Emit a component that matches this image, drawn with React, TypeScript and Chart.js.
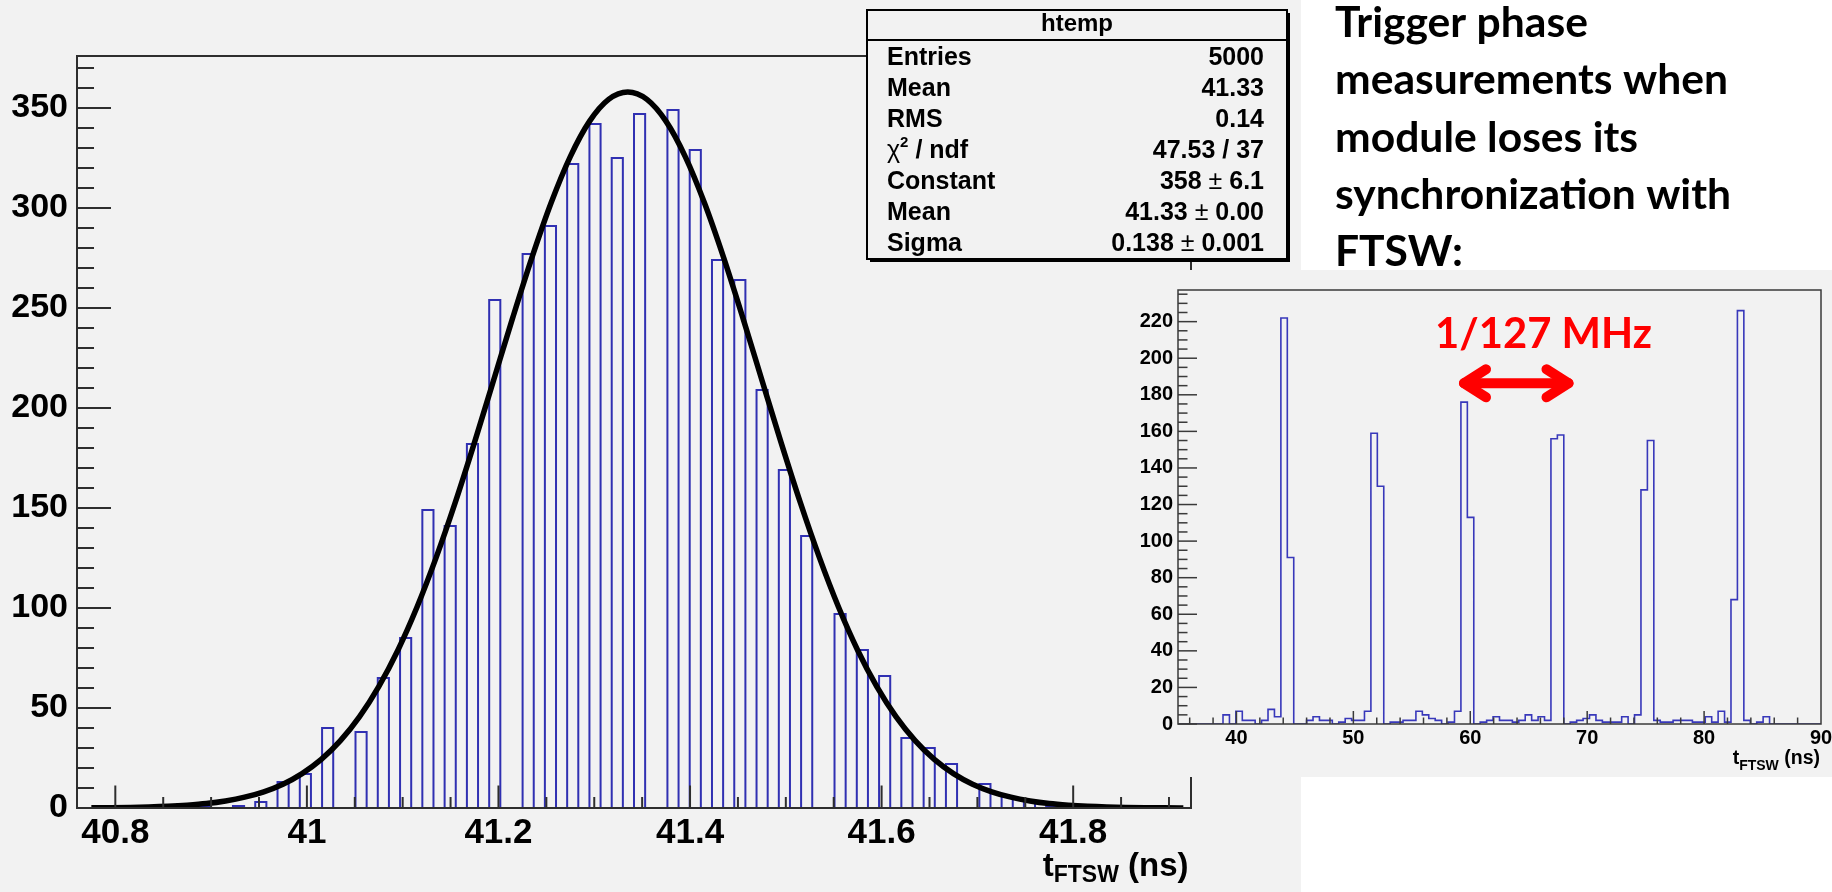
import React, { useEffect, useRef } from 'react';
import { Chart, registerables } from 'chart.js';

Chart.register(...registerables);

// ---------------- main histogram (htemp) ----------------
const MAIN_X_MIN = 40.76;
const MAIN_X_MAX = 41.923;
const MAIN_BIN_WIDTH = 0.01163;
const MAIN_Y_MAX = 376;
const MAIN_COUNTS = [
  0, 0, 0, 0, 0, 0, 0, 0, 0, 2,
  0, 1, 0, 0, 1, 0, 3, 0, 13, 0,
  17, 0, 40, 0, 0, 38, 0, 65, 0, 85,
  0, 149, 0, 141, 0, 182, 0, 254, 0, 0,
  277, 0, 291, 0, 322, 0, 342, 0, 325, 0,
  347, 0, 0, 349, 0, 329, 0, 274, 0, 264,
  0, 209, 0, 169, 0, 136, 0, 0, 97, 0,
  79, 0, 66, 0, 35, 0, 30, 0, 22, 0,
  0, 12, 0, 6, 0, 3, 0, 1, 0, 1,
  0, 0, 0, 0, 0, 0, 0, 0, 0, 0,
];
const MAIN_X_TICKS = [40.8, 41, 41.2, 41.4, 41.6, 41.8];
const MAIN_X_LABELS = ['40.8', '41', '41.2', '41.4', '41.6', '41.8'];
const MAIN_Y_TICKS = [0, 50, 100, 150, 200, 250, 300, 350];

// gaussian fit curve, sampled every 0.02 ns from 40.775
const FIT_X_START = 40.775;
const FIT_X_STEP = 0.02;
const FIT_Y = [
  0.1, 0.17, 0.3, 0.5, 0.85, 1.4, 2.2, 3.5, 5.4, 8.1,
  11.9, 17.2, 24.3, 33.7, 45.7, 60.7, 78.9, 100.5, 125.3, 152.9,
  182.8, 214.0, 245.3, 275.3, 302.6, 325.7, 343.3, 354.3, 358, 354.3,
  343.3, 325.7, 302.6, 275.3, 245.3, 214.0, 182.8, 152.9, 125.3, 100.5,
  78.9, 60.7, 45.7, 33.7, 24.3, 17.2, 11.9, 8.1, 5.4, 3.5,
  2.2, 1.4, 0.85, 0.5, 0.3, 0.17, 0.1, 0.05,
];

const STATS_TITLE = 'htemp';
const STATS_LABELS = ['Entries', 'Mean', 'RMS', 'χ2 / ndf', 'Constant', 'Mean', 'Sigma'];
const STATS_VALUES = ['5000', '41.33', '0.14', '47.53 / 37', '358 ± 6.1', '41.33 ± 0.00', '0.138 ± 0.001'];

// ---------------- inset histogram ----------------
const INSET_X_MIN = 35;
const INSET_X_MAX = 90;
const INSET_BIN_WIDTH = 0.55;
const INSET_Y_MAX = 237.3;
const INSET_COUNTS = [
  0, 0, 0, 0, 0, 0, 0, 5, 0, 7,
  2, 2, 0, 2, 8, 4, 222, 91, 0, 0,
  2, 4, 2, 2, 0, 1, 3, 2, 2, 7,
  159, 130, 0, 1, 1, 2, 2, 7, 5, 3,
  2, 0, 1, 7, 176, 113, 0, 1, 2, 4,
  2, 2, 1, 2, 5, 2, 4, 2, 156, 158,
  0, 1, 2, 3, 5, 2, 1, 1, 1, 4,
  0, 5, 128, 155, 2, 1, 1, 2, 2, 2,
  1, 1, 4, 1, 7, 1, 68, 226, 2, 0,
  1, 4, 0, 0, 0, 0, 0, 0, 0, 0,
];
const INSET_X_TICKS = [40, 50, 60, 70, 80, 90];
const INSET_Y_TICKS = [0, 20, 40, 60, 80, 100, 120, 140, 160, 180, 200, 220];
const INSET_NOTE = '1/127 MHz';

const TEXT_LINES = ['Trigger phase', 'measurements when', 'module loses its', 'synchronization with', 'FTSW:'];

// ---------------- styling ----------------
const PAGE_W = 1832;
const PAGE_H = 892;
const BG = '#f2f2f2';
const HIST_BLUE = 'rgb(48,48,178)';
const AXIS = '#2e2e2e';
const ROOT_FONT = '"Liberation Sans", Arial, Helvetica, sans-serif';
const SLIDE_FONT = 'Lato, "Open Sans", sans-serif';

type Seg = { text: string; font: string; dy?: number };

function segWidth(ctx: CanvasRenderingContext2D, segs: Seg[]) {
  let w = 0;
  for (const s of segs) {
    ctx.font = s.font;
    w += ctx.measureText(s.text).width;
  }
  return w;
}
function drawSegs(ctx: CanvasRenderingContext2D, x0: number, baseline: number, segs: Seg[]) {
  let x = x0;
  for (const s of segs) {
    ctx.font = s.font;
    ctx.fillText(s.text, x, baseline + (s.dy || 0));
    x += ctx.measureText(s.text).width;
  }
}
function drawSegsRight(ctx: CanvasRenderingContext2D, right: number, baseline: number, segs: Seg[]) {
  drawSegs(ctx, right - segWidth(ctx, segs), baseline, segs);
}
function line(ctx: CanvasRenderingContext2D, x1: number, y1: number, x2: number, y2: number) {
  ctx.beginPath();
  ctx.moveTo(x1, y1);
  ctx.lineTo(x2, y2);
  ctx.stroke();
}

function stepPoints(xmin: number, w: number, counts: number[]) {
  const pts = counts.map((c, i) => ({ x: xmin + i * w, y: c }));
  pts.push({ x: xmin + counts.length * w, y: 0 });
  return pts;
}

const mainDecor = {
  id: 'mainDecor',
  beforeDraw(chart: any) {
    const ctx = chart.ctx as CanvasRenderingContext2D;
    ctx.save();
    ctx.fillStyle = BG;
    ctx.fillRect(0, 0, PAGE_W, PAGE_H);
    ctx.fillStyle = '#ffffff';
    ctx.fillRect(1301, 0, PAGE_W - 1301, 270);
    ctx.fillRect(1301, 777, PAGE_W - 1301, PAGE_H - 777);
    ctx.restore();
  },
  afterDatasetsDraw(chart: any) {
    const ctx = chart.ctx as CanvasRenderingContext2D;
    const a = chart.chartArea;
    const xs = chart.scales.x;
    const ys = chart.scales.y;
    ctx.save();
    ctx.strokeStyle = AXIS;
    ctx.lineWidth = 2;
    ctx.strokeRect(a.left, a.top, a.right - a.left, a.bottom - a.top);
    for (let k = 0; k * 10 <= MAIN_Y_MAX; k++) {
      const y = ys.getPixelForValue(k * 10);
      line(ctx, a.left, y, a.left + (k % 5 === 0 ? 34 : 17), y);
    }
    for (let k = 0; k <= 22; k++) {
      const x = xs.getPixelForValue(40.8 + k * 0.05);
      line(ctx, x, a.bottom, x, a.bottom - (k % 4 === 0 ? 22.5 : 11));
    }
    ctx.restore();
  },
  afterDraw(chart: any) {
    const ctx = chart.ctx as CanvasRenderingContext2D;
    const a = chart.chartArea;
    ctx.save();
    ctx.fillStyle = '#000';
    ctx.textBaseline = 'alphabetic';
    // x-axis title
    drawSegsRight(ctx, a.right - 2.5, 876, [
      { text: 't', font: `bold 33px ${ROOT_FONT}` },
      { text: 'FTSW', font: `bold 23px ${ROOT_FONT}`, dy: 6 },
      { text: ' (ns)', font: `bold 33px ${ROOT_FONT}` },
    ]);

    // stats box
    const bx = 867, by = 10, bw = 420, bh = 249;
    ctx.fillStyle = '#000';
    ctx.fillRect(bx + 3, by + 3, bw, bh);
    ctx.fillStyle = BG;
    ctx.fillRect(bx, by, bw, bh);
    ctx.strokeStyle = '#000';
    ctx.lineWidth = 2;
    ctx.strokeRect(bx, by, bw, bh);
    line(ctx, bx, 40, bx + bw, 40);
    ctx.fillStyle = '#000';
    ctx.font = `bold 24px ${ROOT_FONT}`;
    ctx.textAlign = 'center';
    ctx.fillText(STATS_TITLE, bx + bw / 2, 31);
    ctx.textAlign = 'left';
    const B = `bold 25px ${ROOT_FONT}`;
    const N = `25px ${ROOT_FONT}`;
    STATS_LABELS.forEach((lab, i) => {
      const base = 65 + i * 31;
      if (lab.startsWith('χ2')) {
        drawSegs(ctx, 887, base, [
          { text: 'χ', font: N },
          { text: '2', font: `bold 15px ${ROOT_FONT}`, dy: -11 },
          { text: lab.slice(2), font: B },
        ]);
      } else {
        drawSegs(ctx, 887, base, [{ text: lab, font: B }]);
      }
      const val = STATS_VALUES[i];
      const parts = val.split(' ± ');
      const segs: Seg[] = parts.length === 2
        ? [{ text: parts[0], font: B }, { text: ' ± ', font: N }, { text: parts[1], font: B }]
        : [{ text: val, font: B }];
      drawSegsRight(ctx, 1264, base, segs);
    });

    // slide text
    ctx.font = `bold 100px ${SLIDE_FONT}`;
    const size = (100 * 393) / ctx.measureText(TEXT_LINES[1]).width;
    ctx.font = `bold ${size.toFixed(2)}px ${SLIDE_FONT}`;
    TEXT_LINES.forEach((t, i) => ctx.fillText(t, 1335, 37 + i * 57.3));
    ctx.restore();
  },
};

const insetDecor = {
  id: 'insetDecor',
  beforeDraw(chart: any) {
    const ctx = chart.ctx as CanvasRenderingContext2D;
    ctx.save();
    ctx.fillStyle = BG;
    ctx.fillRect(0, 0, chart.width, chart.height);
    ctx.restore();
  },
  afterDatasetsDraw(chart: any) {
    const ctx = chart.ctx as CanvasRenderingContext2D;
    const a = chart.chartArea;
    const xs = chart.scales.x;
    const ys = chart.scales.y;
    ctx.save();
    ctx.strokeStyle = '#3a3a3a';
    ctx.lineWidth = 1.5;
    ctx.strokeRect(a.left, a.top, a.right - a.left, a.bottom - a.top);
    for (let k = 0; k * 5 <= INSET_Y_MAX; k++) {
      const y = ys.getPixelForValue(k * 5);
      line(ctx, a.left, y, a.left + (k % 4 === 0 ? 19 : 9.5), y);
    }
    for (let v = 36; v < INSET_X_MAX; v += 2) {
      const x = xs.getPixelForValue(v);
      line(ctx, x, a.bottom, x, a.bottom - (v % 10 === 0 ? 13 : 6.5));
    }
    ctx.restore();
  },
  afterDraw(chart: any) {
    const ctx = chart.ctx as CanvasRenderingContext2D;
    const a = chart.chartArea;
    ctx.save();
    ctx.fillStyle = '#000';
    drawSegsRight(ctx, a.right - 1, 494, [
      { text: 't', font: `bold 19.5px ${ROOT_FONT}` },
      { text: 'FTSW', font: `bold 14px ${ROOT_FONT}`, dy: 6 },
      { text: ' (ns)', font: `bold 19.5px ${ROOT_FONT}` },
    ]);
    // red annotation
    ctx.fillStyle = '#ff0000';
    ctx.font = `bold 100px ${SLIDE_FONT}`;
    const size = (100 * 217) / ctx.measureText(INSET_NOTE).width;
    ctx.font = `bold ${size.toFixed(2)}px ${SLIDE_FONT}`;
    ctx.fillText(INSET_NOTE, 317, 78.3);
    ctx.strokeStyle = '#ff0000';
    ctx.lineWidth = 10;
    ctx.lineCap = 'round';
    ctx.lineJoin = 'round';
    const y = 113.3, x1 = 346, x2 = 450.5, hx = 22, hy = 14;
    line(ctx, x1, y, x2, y);
    ctx.beginPath();
    ctx.moveTo(x1 + hx, y - hy);
    ctx.lineTo(x1, y);
    ctx.lineTo(x1 + hx, y + hy);
    ctx.stroke();
    ctx.beginPath();
    ctx.moveTo(x2 - hx, y - hy);
    ctx.lineTo(x2, y);
    ctx.lineTo(x2 - hx, y + hy);
    ctx.stroke();
    ctx.restore();
  },
};

export default function App() {
  const mainRef = useRef<HTMLCanvasElement>(null);
  const insetRef = useRef<HTMLCanvasElement>(null);

  useEffect(() => {
    if (!mainRef.current || !insetRef.current) return;
    const tickFont = (size: number) => ({ family: ROOT_FONT, size, weight: 'bold' as const });

    const main = new Chart(mainRef.current, {
      type: 'line',
      data: {
        datasets: [
          {
            label: 'htemp',
            data: stepPoints(MAIN_X_MIN, MAIN_BIN_WIDTH, MAIN_COUNTS),
            stepped: 'before',
            borderColor: HIST_BLUE,
            borderWidth: 2,
            pointRadius: 0,
            fill: false,
            order: 2,
          },
          {
            label: 'gaus',
            data: FIT_Y.map((y, i) => ({ x: FIT_X_START + i * FIT_X_STEP, y })),
            borderColor: '#000',
            borderWidth: 5.5,
            pointRadius: 0,
            fill: false,
            cubicInterpolationMode: 'monotone',
            order: 1,
          },
        ],
      },
      options: {
        animation: false,
        responsive: false,
        devicePixelRatio: 1,
        events: [],
        layout: { padding: { left: 0, top: 56, right: PAGE_W - 1191, bottom: 0 }, autoPadding: false },
        plugins: { legend: { display: false }, tooltip: { enabled: false } },
        scales: {
          x: {
            type: 'linear',
            min: MAIN_X_MIN,
            max: MAIN_X_MAX,
            grid: { display: false, drawTicks: false },
            border: { display: false },
            ticks: {
              font: tickFont(35),
              color: '#000',
              padding: 4,
              maxRotation: 0,
              autoSkip: false,
              callback: (_v: any, i: number) => MAIN_X_LABELS[i],
            },
            afterBuildTicks: (s: any) => {
              s.ticks = MAIN_X_TICKS.map((v) => ({ value: v }));
            },
            afterFit: (s: any) => {
              s.height = PAGE_H - 808;
              s.paddingLeft = 0;
              s.paddingRight = 0;
            },
          },
          y: {
            type: 'linear',
            min: 0,
            max: MAIN_Y_MAX,
            grid: { display: false, drawTicks: false },
            border: { display: false },
            ticks: { font: tickFont(34), color: '#000', padding: 9, autoSkip: false },
            afterBuildTicks: (s: any) => {
              s.ticks = MAIN_Y_TICKS.map((v) => ({ value: v }));
            },
            afterFit: (s: any) => {
              s.width = 77;
              s.paddingTop = 0;
              s.paddingBottom = 0;
            },
          },
        },
      },
      plugins: [mainDecor],
    } as any);

    const inset = new Chart(insetRef.current, {
      type: 'line',
      data: {
        datasets: [
          {
            label: 'phase',
            data: stepPoints(INSET_X_MIN, INSET_BIN_WIDTH, INSET_COUNTS),
            stepped: 'before',
            borderColor: 'rgb(56,56,186)',
            borderWidth: 1.6,
            pointRadius: 0,
            fill: false,
          },
        ],
      },
      options: {
        animation: false,
        responsive: false,
        devicePixelRatio: 1,
        events: [],
        layout: { padding: { left: 0, top: 20, right: 11, bottom: 0 }, autoPadding: false },
        plugins: { legend: { display: false }, tooltip: { enabled: false } },
        scales: {
          x: {
            type: 'linear',
            min: INSET_X_MIN,
            max: INSET_X_MAX,
            grid: { display: false, drawTicks: false },
            border: { display: false },
            ticks: { font: tickFont(20), color: '#000', padding: 2, maxRotation: 0, autoSkip: false },
            afterBuildTicks: (s: any) => {
              s.ticks = INSET_X_TICKS.map((v) => ({ value: v }));
            },
            afterFit: (s: any) => {
              s.height = 53;
              s.paddingLeft = 0;
              s.paddingRight = 0;
            },
          },
          y: {
            type: 'linear',
            min: 0,
            max: INSET_Y_MAX,
            grid: { display: false, drawTicks: false },
            border: { display: false },
            ticks: { font: tickFont(20), color: '#000', padding: 5, autoSkip: false },
            afterBuildTicks: (s: any) => {
              s.ticks = INSET_Y_TICKS.map((v) => ({ value: v }));
            },
            afterFit: (s: any) => {
              s.width = 60;
              s.paddingTop = 0;
              s.paddingBottom = 0;
            },
          },
        },
      },
      plugins: [insetDecor],
    } as any);

    return () => {
      main.destroy();
      inset.destroy();
    };
  }, []);

  return (
    <div style={{ position: 'fixed', left: 0, top: 0, width: PAGE_W, height: PAGE_H, overflow: 'hidden', background: BG }}>
      <canvas
        ref={mainRef}
        width={PAGE_W}
        height={PAGE_H}
        style={{ position: 'absolute', left: 0, top: 0, width: PAGE_W, height: PAGE_H }}
      />
      <canvas
        ref={insetRef}
        width={714}
        height={507}
        style={{ position: 'absolute', left: 1118, top: 270, width: 714, height: 507 }}
      />
    </div>
  );
}
